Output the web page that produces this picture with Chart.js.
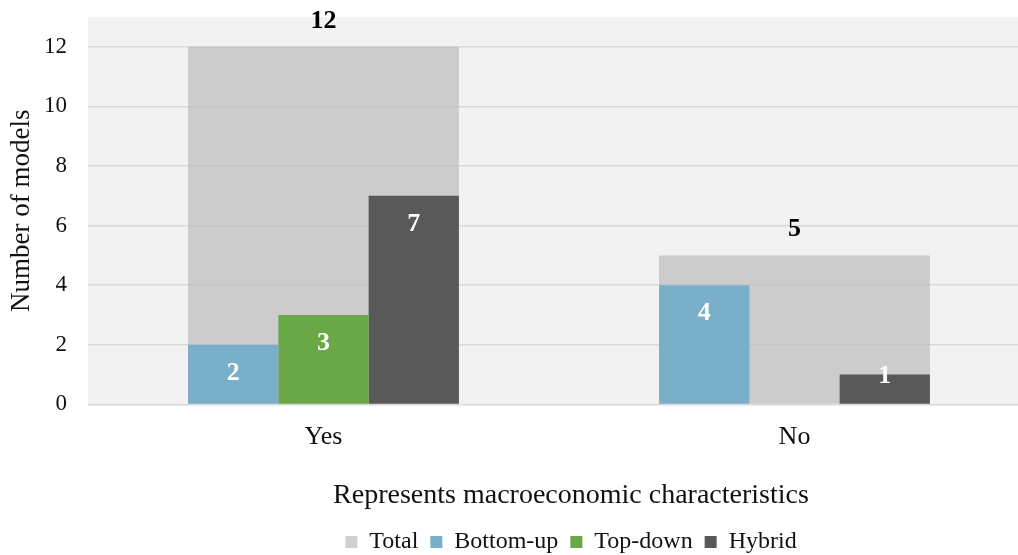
<!DOCTYPE html>
<html>
<head>
<meta charset="utf-8">
<script src="https://cdn.jsdelivr.net/npm/chart.js@4/dist/chart.umd.min.js"></script>
<style>
  html, body { margin: 0; padding: 0; background: #ffffff; overflow: hidden; }
  #wrap { position: relative; width: 1142px; height: 564px; }
</style>
</head>
<body>
<div id="wrap"><canvas id="chart"></canvas></div>
<script>
// Categories and series values
const categories = ['Yes', 'No'];
const totalValues = [12, 5];
const bottomUpValues = [2, 4];
const topDownValues = [3, null];
const hybridValues = [7, 1];
const yTickValues = [0, 2, 4, 6, 8, 10, 12];

const serif = "'Liberation Serif', 'Times New Roman', serif";
const textColor = '#111111';

// Paint the plot background behind the grid and bars
const plotBackground = {
  id: 'plotBackground',
  beforeDraw(chart) {
    const { ctx, chartArea: a } = chart;
    ctx.save();
    ctx.fillStyle = '#f2f2f2';
    ctx.fillRect(a.left, a.top, a.right - a.left, a.bottom - a.top);
    ctx.restore();
  }
};

// Value labels: totals above their bars, the rest inside near the top
const valueLabels = {
  id: 'valueLabels',
  afterDatasetsDraw(chart) {
    const { ctx } = chart;
    ctx.save();
    ctx.font = 'bold 26px ' + serif;
    ctx.textAlign = 'center';
    ctx.textBaseline = 'middle';
    chart.data.datasets.forEach((ds, di) => {
      const meta = chart.getDatasetMeta(di);
      if (meta.hidden) return;
      meta.data.forEach((bar, i) => {
        const v = ds.data[i];
        if (v === null || v === undefined) return;
        const top = bar.y, bottom = bar.base;
        if (ds.isTotal) {
          ctx.fillStyle = '#000000';
          ctx.fillText(String(v), bar.x, top - 26);
        } else {
          ctx.fillStyle = '#ffffff';
          ctx.fillText(String(v), bar.x, Math.min(top + 28, bottom - 27));
        }
      });
    });
    ctx.restore();
  }
};

function noEdgePadding(scale) {
  scale.paddingTop = 0;
  scale.paddingBottom = 0;
  scale.paddingLeft = 0;
  scale.paddingRight = 0;
}

const chart = new Chart(document.getElementById('chart'), {
  type: 'bar',
  data: {
    labels: categories,
    datasets: [
      { label: 'Total', data: totalValues, isTotal: true, grouped: false, order: 1,
        backgroundColor: 'rgba(185,185,185,0.68)' },
      { label: 'Bottom-up', data: bottomUpValues, order: 0, backgroundColor: '#7aafca' },
      { label: 'Top-down', data: topDownValues, order: 0, backgroundColor: '#6aa746' },
      { label: 'Hybrid', data: hybridValues, order: 0, backgroundColor: '#595959' }
    ]
  },
  options: {
    responsive: true,
    maintainAspectRatio: false,
    animation: false,
    layout: { padding: { top: 17, bottom: 0, left: 0, right: 0 } },
    datasets: {
      bar: { categoryPercentage: 0.575, barPercentage: 1.0 }
    },
    scales: {
      x: {
        type: 'category',
        afterFit(scale) { scale.height = 48; noEdgePadding(scale); },
        grid: { display: false, drawTicks: false },
        border: { display: false },
        ticks: { color: textColor, font: { family: serif, size: 26 }, padding: 17 }
      },
      y: {
        type: 'linear',
        min: 0,
        max: 13,
        afterBuildTicks(scale) { scale.ticks = yTickValues.map(v => ({ value: v })); },
        afterFit(scale) { scale.width = 88; noEdgePadding(scale); },
        grid: { color: '#d9d9d9', lineWidth: 1.5, drawTicks: false },
        border: { display: false },
        ticks: { color: textColor, font: { family: serif, size: 23 }, padding: 21 },
        title: { display: true, text: 'Number of models', color: textColor,
                 font: { family: serif, size: 27 }, padding: { top: 6, bottom: 0 } }
      },
      pad: {
        type: 'linear',
        position: 'right',
        display: true,
        grid: { display: false, drawTicks: false },
        border: { display: false },
        ticks: { display: false },
        afterFit(scale) { scale.width = 112; noEdgePadding(scale); }
      }
    },
    plugins: {
      title: {
        display: true,
        position: 'bottom',
        text: 'Represents macroeconomic characteristics',
        color: textColor,
        weight: 500,
        font: { family: serif, size: 28, weight: 'normal' },
        padding: { top: 26, bottom: 6 }
      },
      legend: {
        position: 'bottom',
        weight: 1000,
        labels: {
          color: textColor,
          font: { family: serif, size: 24 },
          boxWidth: 12,
          boxHeight: 12,
          padding: 12,
          sort: (a, b) => a.datasetIndex - b.datasetIndex
        }
      },
      tooltip: { enabled: false }
    }
  },
  plugins: [plotBackground, valueLabels]
});
</script>
</body>
</html>
